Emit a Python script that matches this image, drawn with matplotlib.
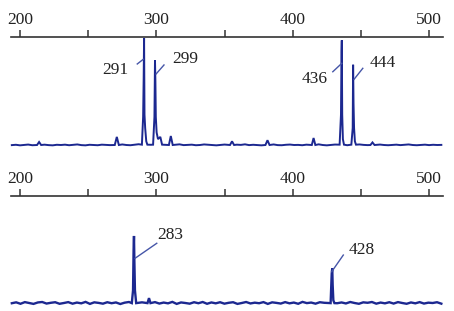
import numpy as np
import matplotlib
matplotlib.use("Agg")
import matplotlib.pyplot as plt

# ---- data ----
xlim = (193.4, 510.0)
major_ticks = [200, 300, 400, 500]
minor_ticks = [250, 350, 450]

top_noise = [2.6,2.9,2.4,2.8,3.1,2.5,2.7,3.3,3.0,2.6,
             2.4,2.9,2.7,3.0,2.5,2.8,3.2,2.6,2.4,2.9,
             2.7,2.5,3.0,2.8,2.6,3.1,2.9,3.2,2.7,2.5,
             3.0,3.4,2.8,2.6,2.9,2.4,2.7,3.1,2.8,2.5,
             2.9,3.3,2.6,2.8,3.0,2.5,2.7,3.2,2.9,2.6,
             2.4,2.8,3.1,2.7,2.5,3.0,2.8,3.3,2.6,2.9,
             2.7,2.4,3.0,2.8,3.2,2.6,2.5,2.9,3.1,2.7,
             2.8,2.5,3.0,2.6,2.9,3.3,2.7,2.4,2.8,3.1,
             2.6,2.9,2.5,3.0,2.7,3.2,2.8,2.6,2.4,2.9,
             3.1,2.7,2.5,2.8,3.0,2.6,2.9,3.2,2.7,2.5,
             2.8,3.0,2.6,2.9,2.7,2.8]
top_peak_x = [212.5,214,215.5, 269.5,271,272.5,
              289.4,290.3,290.7,291.0,291.3,291.8,292.6,293.4,
              297.6,298.6,299.0,299.3,299.6,300.2,301.2,302.9,304.2,
              309.2,310.6,312.0, 354,355.5,357, 380,381.5,383, 414,415.3,416.6,
              434.4,435.4,435.8,436.0,436.3,436.8,437.6,
              443.0,444.0,444.3,444.6,445.0,445.6,446.4, 457,458.5,460]
top_peak_y = [2.7,5.4,2.7, 2.7,10,2.7,
              3,28,63,99,30,18,6,3,
              3,28,79,60,28,14,8,10,3,
              2.7,10.8,2.7, 2.7,6,2.7, 2.7,7,2.7, 2.7,9,2.7,
              3,30,87,97,30,8,3,
              3,18,75,40,18,6,3, 2.7,5,2.7]

bot_noise = [3.4,4.2,2.9,4.4,3.6,2.8,4.1,4.5,3.1,3.8,
             4.3,2.9,3.6,4.4,3.0,4.0,3.3,4.6,2.8,4.2,
             3.7,3.0,4.3,3.4,4.1,2.7,3.9,4.5,3.2,3.7,
             4.2,2.9,3.5,4.4,3.1,4.0,3.3,4.6,2.8,4.1,
             3.6,3.0,4.3,3.4,4.5,2.9,4.1,3.3,4.3,3.0,
             3.8,4.3,2.8,3.6,4.5,3.2,3.9,3.4,4.4,2.8,
             4.2,3.7,3.1,4.4,3.3,4.0,2.9,4.6,3.5,4.0,
             3.0,4.3,3.8,2.9,4.3,3.4,4.1,3.2,4.5,3.6,
             2.9,4.2,3.8,4.5,3.0,4.0,3.3,4.3,3.1,4.4,
             3.6,2.9,4.1,3.3,4.4,3.1,3.9,3.6,4.3,3.0]
bot_peak_x = [282.0,282.9,283.3,283.6,283.9,284.3,285.2,
              293.5,294.6,295.7,
              427.8,428.6,429.0,429.3,429.8,430.6]
bot_peak_y = [3.5,15,51,64,40,15,3.5,
              3.5,8,3.5,
              3.5,30,35,20,6,3.5]

top_labels = ["291", "299", "436", "444"]
top_line_start = [(286.0, 75.7), (299.8, 66.7), (429.4, 68.7), (445.0, 61.9)]
top_line_end = [(290.4, 79.9), (305.6, 74.8), (436.0, 76.3), (451.4, 71.8)]
top_text_pos = [(269.7, 70.3), (321.0, 80.2), (416.4, 62.2), (466.3, 77.0)]

bot_labels = ["283", "428"]
bot_line_start = [(284.4, 43.9), (428.6, 31.8)]
bot_line_end = [(300.3, 57.4), (437.1, 46.8)]
bot_text_pos = [(310.0, 64.9), (450.6, 51.4)]

# ---- style ----
trace_color = "#1c2890"
leader_color = "#4656a8"
axis_color = "#333333"
plt.rcParams['font.family'] = ['Liberation Serif', 'DejaVu Serif']

W, H = 454, 311
fig = plt.figure(figsize=(W / 100, H / 100), dpi=100)

def make_trace(noise, px, py):
    nx = np.linspace(194, 509, len(noise))
    ny = np.array(noise)
    px = np.array(px); py = np.array(py)
    keep = np.array([np.min(np.abs(px - v)) > 1.6 for v in nx])
    xs = np.concatenate([nx[keep], px])
    ys = np.concatenate([ny[keep], py])
    order = np.argsort(xs, kind="stable")
    return xs[order], ys[order]

def setup(ax):
    ax.set_xlim(*xlim)
    ax.set_ylim(0, 100)
    for s in ["left", "right", "bottom"]:
        ax.spines[s].set_visible(False)
    ax.spines["top"].set_color(axis_color)
    ax.spines["top"].set_linewidth(1.2)
    ax.xaxis.set_ticks_position("top")
    ax.xaxis.set_label_position("top")
    ax.set_xticks(major_ticks)
    ax.set_xticks(minor_ticks, minor=True)
    ax.tick_params(axis="x", which="both", direction="out", length=5, width=1.1,
                   color=axis_color, labelsize=12.5, pad=1.5, labelcolor="#222222")
    ax.tick_params(axis="x", which="minor", labeltop=False)
    ax.set_yticks([])
    ax.patch.set_alpha(0)

ax1 = fig.add_axes([11 / W, 1 - 148 / H, (442.7 - 11) / W, 111 / H])
ax2 = fig.add_axes([11 / W, 1 - 307 / H, (442.7 - 11) / W, 111 / H])
for ax in (ax1, ax2):
    setup(ax)

x1, y1 = make_trace(top_noise, top_peak_x, top_peak_y)
ax1.plot(x1, y1, color=trace_color, lw=1.4, solid_joinstyle="miter", clip_on=False)
x2, y2 = make_trace(bot_noise, bot_peak_x, bot_peak_y)
ax2.plot(x2, y2, color=trace_color, lw=1.7, solid_joinstyle="miter", clip_on=False)

for ax, labels, ls, le, tp in [(ax1, top_labels, top_line_start, top_line_end, top_text_pos),
                               (ax2, bot_labels, bot_line_start, bot_line_end, bot_text_pos)]:
    for lab, s, e, t in zip(labels, ls, le, tp):
        ax.plot([s[0], e[0]], [s[1], e[1]], color=leader_color, lw=1.0)
        ax.text(t[0], t[1], lab, ha="center", va="center", fontsize=12.5, color="#222222")

fig.savefig("out.png", dpi=100)
